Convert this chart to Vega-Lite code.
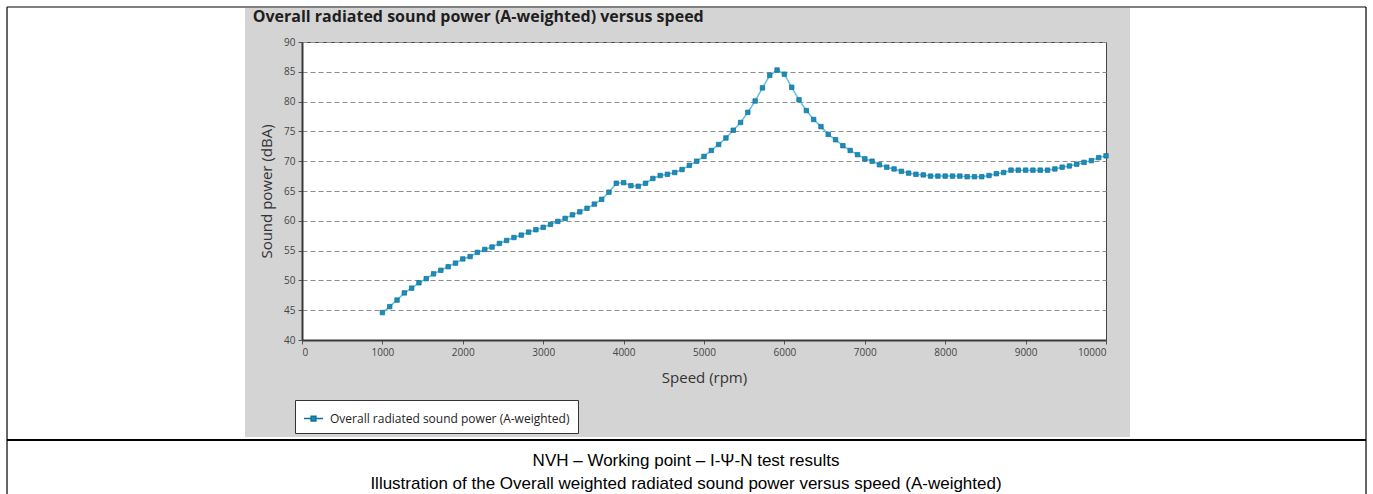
{
  "$schema": "https://vega.github.io/schema/vega-lite/v6.json",
  "width": 804,
  "height": 298,
  "autosize": {"type": "none"},
  "padding": {"left": 302, "top": 42, "right": 267, "bottom": 154},
  "background": "#d4d4d4",
  "config": {
    "view": {"fill": "white", "stroke": "#444", "strokeWidth": 1},
    "font": "Open Sans",
    "axis": {
      "domainColor": "#3a3a3a", "domainWidth": 2,
      "tickColor": "#555", "tickSize": 4,
      "labelFont": "Open Sans", "labelFontSize": 10, "labelColor": "#444", "labelPadding": 3, "labelOverlap": false,
      "titleFont": "Open Sans", "titleFontSize": 15, "titleFontWeight": "normal", "titleColor": "#333"
    },
    "axisX": {"grid": false, "titlePadding": 13},
    "axisY": {"grid": true, "gridColor": "#8c8c8c", "gridDash": [5, 3], "gridWidth": 1, "titlePadding": 9}
  },
  "datasets": {
    "power": [
      {"speed": 1000, "dBA": 44.6, "series": "Overall radiated sound power (A-weighted)"},
      {"speed": 1091, "dBA": 45.6, "series": "Overall radiated sound power (A-weighted)"},
      {"speed": 1182, "dBA": 46.7, "series": "Overall radiated sound power (A-weighted)"},
      {"speed": 1273, "dBA": 47.9, "series": "Overall radiated sound power (A-weighted)"},
      {"speed": 1364, "dBA": 48.7, "series": "Overall radiated sound power (A-weighted)"},
      {"speed": 1455, "dBA": 49.6, "series": "Overall radiated sound power (A-weighted)"},
      {"speed": 1545, "dBA": 50.3, "series": "Overall radiated sound power (A-weighted)"},
      {"speed": 1636, "dBA": 51.1, "series": "Overall radiated sound power (A-weighted)"},
      {"speed": 1727, "dBA": 51.7, "series": "Overall radiated sound power (A-weighted)"},
      {"speed": 1818, "dBA": 52.3, "series": "Overall radiated sound power (A-weighted)"},
      {"speed": 1909, "dBA": 52.9, "series": "Overall radiated sound power (A-weighted)"},
      {"speed": 2000, "dBA": 53.6, "series": "Overall radiated sound power (A-weighted)"},
      {"speed": 2091, "dBA": 54.0, "series": "Overall radiated sound power (A-weighted)"},
      {"speed": 2182, "dBA": 54.7, "series": "Overall radiated sound power (A-weighted)"},
      {"speed": 2273, "dBA": 55.2, "series": "Overall radiated sound power (A-weighted)"},
      {"speed": 2364, "dBA": 55.6, "series": "Overall radiated sound power (A-weighted)"},
      {"speed": 2455, "dBA": 56.2, "series": "Overall radiated sound power (A-weighted)"},
      {"speed": 2545, "dBA": 56.7, "series": "Overall radiated sound power (A-weighted)"},
      {"speed": 2636, "dBA": 57.2, "series": "Overall radiated sound power (A-weighted)"},
      {"speed": 2727, "dBA": 57.6, "series": "Overall radiated sound power (A-weighted)"},
      {"speed": 2818, "dBA": 58.1, "series": "Overall radiated sound power (A-weighted)"},
      {"speed": 2909, "dBA": 58.5, "series": "Overall radiated sound power (A-weighted)"},
      {"speed": 3000, "dBA": 58.9, "series": "Overall radiated sound power (A-weighted)"},
      {"speed": 3091, "dBA": 59.4, "series": "Overall radiated sound power (A-weighted)"},
      {"speed": 3182, "dBA": 59.9, "series": "Overall radiated sound power (A-weighted)"},
      {"speed": 3273, "dBA": 60.4, "series": "Overall radiated sound power (A-weighted)"},
      {"speed": 3364, "dBA": 61.0, "series": "Overall radiated sound power (A-weighted)"},
      {"speed": 3455, "dBA": 61.5, "series": "Overall radiated sound power (A-weighted)"},
      {"speed": 3545, "dBA": 62.1, "series": "Overall radiated sound power (A-weighted)"},
      {"speed": 3636, "dBA": 62.8, "series": "Overall radiated sound power (A-weighted)"},
      {"speed": 3727, "dBA": 63.6, "series": "Overall radiated sound power (A-weighted)"},
      {"speed": 3818, "dBA": 64.8, "series": "Overall radiated sound power (A-weighted)"},
      {"speed": 3909, "dBA": 66.3, "series": "Overall radiated sound power (A-weighted)"},
      {"speed": 4000, "dBA": 66.4, "series": "Overall radiated sound power (A-weighted)"},
      {"speed": 4091, "dBA": 65.9, "series": "Overall radiated sound power (A-weighted)"},
      {"speed": 4182, "dBA": 65.8, "series": "Overall radiated sound power (A-weighted)"},
      {"speed": 4273, "dBA": 66.3, "series": "Overall radiated sound power (A-weighted)"},
      {"speed": 4364, "dBA": 67.1, "series": "Overall radiated sound power (A-weighted)"},
      {"speed": 4455, "dBA": 67.6, "series": "Overall radiated sound power (A-weighted)"},
      {"speed": 4545, "dBA": 67.8, "series": "Overall radiated sound power (A-weighted)"},
      {"speed": 4636, "dBA": 68.1, "series": "Overall radiated sound power (A-weighted)"},
      {"speed": 4727, "dBA": 68.6, "series": "Overall radiated sound power (A-weighted)"},
      {"speed": 4818, "dBA": 69.3, "series": "Overall radiated sound power (A-weighted)"},
      {"speed": 4909, "dBA": 70.0, "series": "Overall radiated sound power (A-weighted)"},
      {"speed": 5000, "dBA": 70.8, "series": "Overall radiated sound power (A-weighted)"},
      {"speed": 5091, "dBA": 71.8, "series": "Overall radiated sound power (A-weighted)"},
      {"speed": 5182, "dBA": 72.8, "series": "Overall radiated sound power (A-weighted)"},
      {"speed": 5273, "dBA": 73.9, "series": "Overall radiated sound power (A-weighted)"},
      {"speed": 5364, "dBA": 75.2, "series": "Overall radiated sound power (A-weighted)"},
      {"speed": 5455, "dBA": 76.5, "series": "Overall radiated sound power (A-weighted)"},
      {"speed": 5545, "dBA": 78.2, "series": "Overall radiated sound power (A-weighted)"},
      {"speed": 5636, "dBA": 80.1, "series": "Overall radiated sound power (A-weighted)"},
      {"speed": 5727, "dBA": 82.3, "series": "Overall radiated sound power (A-weighted)"},
      {"speed": 5818, "dBA": 84.4, "series": "Overall radiated sound power (A-weighted)"},
      {"speed": 5909, "dBA": 85.3, "series": "Overall radiated sound power (A-weighted)"},
      {"speed": 6000, "dBA": 84.6, "series": "Overall radiated sound power (A-weighted)"},
      {"speed": 6091, "dBA": 82.4, "series": "Overall radiated sound power (A-weighted)"},
      {"speed": 6182, "dBA": 80.3, "series": "Overall radiated sound power (A-weighted)"},
      {"speed": 6273, "dBA": 78.5, "series": "Overall radiated sound power (A-weighted)"},
      {"speed": 6364, "dBA": 77.0, "series": "Overall radiated sound power (A-weighted)"},
      {"speed": 6455, "dBA": 75.8, "series": "Overall radiated sound power (A-weighted)"},
      {"speed": 6545, "dBA": 74.5, "series": "Overall radiated sound power (A-weighted)"},
      {"speed": 6636, "dBA": 73.6, "series": "Overall radiated sound power (A-weighted)"},
      {"speed": 6727, "dBA": 72.6, "series": "Overall radiated sound power (A-weighted)"},
      {"speed": 6818, "dBA": 71.8, "series": "Overall radiated sound power (A-weighted)"},
      {"speed": 6909, "dBA": 71.1, "series": "Overall radiated sound power (A-weighted)"},
      {"speed": 7000, "dBA": 70.4, "series": "Overall radiated sound power (A-weighted)"},
      {"speed": 7091, "dBA": 70.0, "series": "Overall radiated sound power (A-weighted)"},
      {"speed": 7182, "dBA": 69.4, "series": "Overall radiated sound power (A-weighted)"},
      {"speed": 7273, "dBA": 69.0, "series": "Overall radiated sound power (A-weighted)"},
      {"speed": 7364, "dBA": 68.7, "series": "Overall radiated sound power (A-weighted)"},
      {"speed": 7455, "dBA": 68.3, "series": "Overall radiated sound power (A-weighted)"},
      {"speed": 7545, "dBA": 68.0, "series": "Overall radiated sound power (A-weighted)"},
      {"speed": 7636, "dBA": 67.8, "series": "Overall radiated sound power (A-weighted)"},
      {"speed": 7727, "dBA": 67.7, "series": "Overall radiated sound power (A-weighted)"},
      {"speed": 7818, "dBA": 67.5, "series": "Overall radiated sound power (A-weighted)"},
      {"speed": 7909, "dBA": 67.5, "series": "Overall radiated sound power (A-weighted)"},
      {"speed": 8000, "dBA": 67.5, "series": "Overall radiated sound power (A-weighted)"},
      {"speed": 8091, "dBA": 67.5, "series": "Overall radiated sound power (A-weighted)"},
      {"speed": 8182, "dBA": 67.5, "series": "Overall radiated sound power (A-weighted)"},
      {"speed": 8273, "dBA": 67.4, "series": "Overall radiated sound power (A-weighted)"},
      {"speed": 8364, "dBA": 67.4, "series": "Overall radiated sound power (A-weighted)"},
      {"speed": 8455, "dBA": 67.4, "series": "Overall radiated sound power (A-weighted)"},
      {"speed": 8545, "dBA": 67.6, "series": "Overall radiated sound power (A-weighted)"},
      {"speed": 8636, "dBA": 67.9, "series": "Overall radiated sound power (A-weighted)"},
      {"speed": 8727, "dBA": 68.1, "series": "Overall radiated sound power (A-weighted)"},
      {"speed": 8818, "dBA": 68.5, "series": "Overall radiated sound power (A-weighted)"},
      {"speed": 8909, "dBA": 68.5, "series": "Overall radiated sound power (A-weighted)"},
      {"speed": 9000, "dBA": 68.5, "series": "Overall radiated sound power (A-weighted)"},
      {"speed": 9091, "dBA": 68.5, "series": "Overall radiated sound power (A-weighted)"},
      {"speed": 9182, "dBA": 68.5, "series": "Overall radiated sound power (A-weighted)"},
      {"speed": 9273, "dBA": 68.5, "series": "Overall radiated sound power (A-weighted)"},
      {"speed": 9364, "dBA": 68.7, "series": "Overall radiated sound power (A-weighted)"},
      {"speed": 9455, "dBA": 69.0, "series": "Overall radiated sound power (A-weighted)"},
      {"speed": 9545, "dBA": 69.2, "series": "Overall radiated sound power (A-weighted)"},
      {"speed": 9636, "dBA": 69.5, "series": "Overall radiated sound power (A-weighted)"},
      {"speed": 9727, "dBA": 69.8, "series": "Overall radiated sound power (A-weighted)"},
      {"speed": 9818, "dBA": 70.1, "series": "Overall radiated sound power (A-weighted)"},
      {"speed": 9909, "dBA": 70.6, "series": "Overall radiated sound power (A-weighted)"},
      {"speed": 10000, "dBA": 70.9, "series": "Overall radiated sound power (A-weighted)"}
    ]
  },
  "layer": [
    {
      "data": {"name": "power"},
      "mark": {"type": "line", "color": "#5cc3e3", "strokeWidth": 1.5},
      "encoding": {
        "x": {"field": "speed", "type": "quantitative", "scale": {"domain": [0, 10000], "nice": false, "zero": false}, "axis": {"title": "Speed (rpm)", "format": "d", "values": [0, 1000, 2000, 3000, 4000, 5000, 6000, 7000, 8000, 9000, 10000]}},
        "y": {"field": "dBA", "type": "quantitative", "scale": {"domain": [40, 90], "nice": false, "zero": false}, "axis": {"title": "Sound power (dBA)", "values": [40, 45, 50, 55, 60, 65, 70, 75, 80, 85, 90]}}
      }
    },
    {
      "data": {"name": "power"},
      "mark": {"type": "point", "shape": "square", "size": 20, "filled": true, "opacity": 1, "stroke": "#136f96", "strokeWidth": 0.7},
      "encoding": {
        "x": {"field": "speed", "type": "quantitative", "axis": {"title": "Speed (rpm)", "format": "d", "values": [0, 1000, 2000, 3000, 4000, 5000, 6000, 7000, 8000, 9000, 10000]}},
        "y": {"field": "dBA", "type": "quantitative", "axis": {"title": "Sound power (dBA)", "values": [40, 45, 50, 55, 60, 65, 70, 75, 80, 85, 90]}},
        "color": {
          "field": "series", "type": "nominal",
          "scale": {"range": ["#1a8dbb"]},
          "legend": {
            "title": null, "orient": "none", "legendX": -7, "legendY": 358,
            "fillColor": "white", "strokeColor": "#333", "padding": 8,
            "labelFont": "Open Sans", "labelFontSize": 12, "labelColor": "#222", "labelOffset": 6, "labelLimit": 400,
            "symbolType": "M-1,0H-0.25M0.25,0H1M-0.25,-0.25H0.25V0.25H-0.25Z",
            "symbolSize": 361,
            "encode": {"symbols": {"update": {"fill": {"value": "#1a8dbb"}, "stroke": {"value": "#5cc3e3"}, "strokeWidth": {"value": 1.5}, "opacity": {"value": 1}}}}
          }
        }
      }
    },
    {
      "data": {"values": [{}]},
      "mark": {"type": "rect", "fill": "white", "clip": false},
      "encoding": {
        "x": {"datum": -3800, "type": "quantitative", "axis": {"title": "Speed (rpm)", "format": "d", "values": [0, 1000, 2000, 3000, 4000, 5000, 6000, 7000, 8000, 9000, 10000]}},
        "x2": {"datum": -709},
        "y": {"datum": 13, "type": "quantitative", "axis": {"title": "Sound power (dBA)", "values": [40, 45, 50, 55, 60, 65, 70, 75, 80, 85, 90]}},
        "y2": {"datum": 98}
      }
    },
    {
      "data": {"values": [{}]},
      "mark": {"type": "rect", "fill": "white", "clip": false},
      "encoding": {
        "x": {"datum": 10299, "type": "quantitative", "axis": {"title": "Speed (rpm)", "format": "d", "values": [0, 1000, 2000, 3000, 4000, 5000, 6000, 7000, 8000, 9000, 10000]}},
        "x2": {"datum": 13400},
        "y": {"datum": 13, "type": "quantitative", "axis": {"title": "Sound power (dBA)", "values": [40, 45, 50, 55, 60, 65, 70, 75, 80, 85, 90]}},
        "y2": {"datum": 98}
      }
    },
    {
      "data": {"values": [{}]},
      "mark": {"type": "rect", "fill": "white", "clip": false},
      "encoding": {
        "x": {"datum": -709, "type": "quantitative", "axis": {"title": "Speed (rpm)", "format": "d", "values": [0, 1000, 2000, 3000, 4000, 5000, 6000, 7000, 8000, 9000, 10000]}},
        "x2": {"datum": 10299},
        "y": {"datum": 95.7, "type": "quantitative", "axis": {"title": "Sound power (dBA)", "values": [40, 45, 50, 55, 60, 65, 70, 75, 80, 85, 90]}},
        "y2": {"datum": 98}
      }
    },
    {
      "data": {"values": [{}]},
      "mark": {"type": "rect", "fill": "white", "clip": false},
      "encoding": {
        "x": {"datum": -709, "type": "quantitative", "axis": {"title": "Speed (rpm)", "format": "d", "values": [0, 1000, 2000, 3000, 4000, 5000, 6000, 7000, 8000, 9000, 10000]}},
        "x2": {"datum": 10299},
        "y": {"datum": 13, "type": "quantitative", "axis": {"title": "Sound power (dBA)", "values": [40, 45, 50, 55, 60, 65, 70, 75, 80, 85, 90]}},
        "y2": {"datum": 23.72}
      }
    },
    {
      "data": {"values": [{}]},
      "mark": {"type": "rule", "color": "black", "strokeWidth": 1.2, "clip": false},
      "encoding": {
        "x": {"datum": -3669, "type": "quantitative", "axis": {"title": "Speed (rpm)", "format": "d", "values": [0, 1000, 2000, 3000, 4000, 5000, 6000, 7000, 8000, 9000, 10000]}},
        "x2": {"datum": 13234},
        "y": {"datum": 95.87, "type": "quantitative", "axis": {"title": "Sound power (dBA)", "values": [40, 45, 50, 55, 60, 65, 70, 75, 80, 85, 90]}}
      }
    },
    {
      "data": {"values": [{}]},
      "mark": {"type": "rule", "color": "black", "strokeWidth": 2, "clip": false},
      "encoding": {
        "x": {"datum": -3669, "type": "quantitative", "axis": {"title": "Speed (rpm)", "format": "d", "values": [0, 1000, 2000, 3000, 4000, 5000, 6000, 7000, 8000, 9000, 10000]}},
        "x2": {"datum": 13234},
        "y": {"datum": 23.22, "type": "quantitative", "axis": {"title": "Sound power (dBA)", "values": [40, 45, 50, 55, 60, 65, 70, 75, 80, 85, 90]}}
      }
    },
    {
      "data": {"values": [{}]},
      "mark": {"type": "rule", "color": "black", "strokeWidth": 1.2, "clip": false},
      "encoding": {
        "x": {"datum": -3669, "type": "quantitative", "axis": {"title": "Speed (rpm)", "format": "d", "values": [0, 1000, 2000, 3000, 4000, 5000, 6000, 7000, 8000, 9000, 10000]}},
        "y": {"datum": 95.87, "type": "quantitative", "axis": {"title": "Sound power (dBA)", "values": [40, 45, 50, 55, 60, 65, 70, 75, 80, 85, 90]}},
        "y2": {"datum": 13}
      }
    },
    {
      "data": {"values": [{}]},
      "mark": {"type": "rule", "color": "black", "strokeWidth": 1.2, "clip": false},
      "encoding": {
        "x": {"datum": 13234, "type": "quantitative", "axis": {"title": "Speed (rpm)", "format": "d", "values": [0, 1000, 2000, 3000, 4000, 5000, 6000, 7000, 8000, 9000, 10000]}},
        "y": {"datum": 95.87, "type": "quantitative", "axis": {"title": "Sound power (dBA)", "values": [40, 45, 50, 55, 60, 65, 70, 75, 80, 85, 90]}},
        "y2": {"datum": 13}
      }
    },
    {
      "data": {"values": [{"label": "Overall radiated sound power (A-weighted) versus speed"}]},
      "mark": {"type": "text", "align": "left", "baseline": "alphabetic", "font": "Open Sans", "fontSize": 16, "fontWeight": "bold", "color": "#1e1e1e", "clip": false},
      "encoding": {
        "x": {"datum": -613, "type": "quantitative", "axis": {"title": "Speed (rpm)", "format": "d", "values": [0, 1000, 2000, 3000, 4000, 5000, 6000, 7000, 8000, 9000, 10000]}},
        "y": {"datum": 93.3, "type": "quantitative", "axis": {"title": "Sound power (dBA)", "values": [40, 45, 50, 55, 60, 65, 70, 75, 80, 85, 90]}},
        "text": {"field": "label"}
      }
    },
    {
      "data": {"values": [{"label": "NVH – Working point – I-Ψ-N test results"}]},
      "mark": {"type": "text", "align": "center", "baseline": "alphabetic", "font": "Liberation Sans", "fontSize": 17, "color": "black", "clip": false},
      "encoding": {
        "x": {"datum": 4776, "type": "quantitative", "axis": {"title": "Speed (rpm)", "format": "d", "values": [0, 1000, 2000, 3000, 4000, 5000, 6000, 7000, 8000, 9000, 10000]}},
        "y": {"datum": 18.86, "type": "quantitative", "axis": {"title": "Sound power (dBA)", "values": [40, 45, 50, 55, 60, 65, 70, 75, 80, 85, 90]}},
        "text": {"field": "label"}
      }
    },
    {
      "data": {"values": [{"label": "Illustration of the Overall weighted radiated sound power versus speed (A-weighted)"}]},
      "mark": {"type": "text", "align": "center", "baseline": "alphabetic", "font": "Liberation Sans", "fontSize": 17, "color": "black", "clip": false},
      "encoding": {
        "x": {"datum": 4776, "type": "quantitative", "axis": {"title": "Speed (rpm)", "format": "d", "values": [0, 1000, 2000, 3000, 4000, 5000, 6000, 7000, 8000, 9000, 10000]}},
        "y": {"datum": 15.0, "type": "quantitative", "axis": {"title": "Sound power (dBA)", "values": [40, 45, 50, 55, 60, 65, 70, 75, 80, 85, 90]}},
        "text": {"field": "label"}
      }
    }
  ]
}
